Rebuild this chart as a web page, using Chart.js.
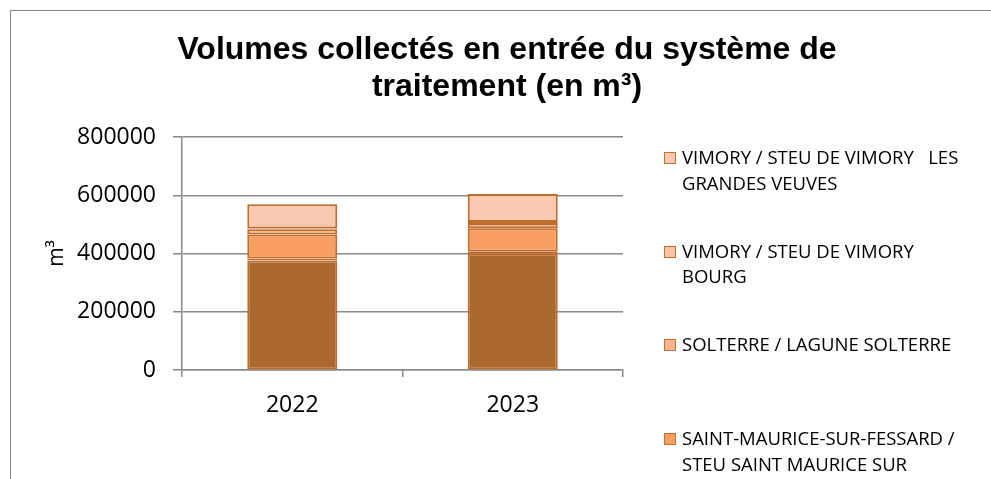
<!DOCTYPE html>
<html lang="fr">
<head>
<meta charset="utf-8">
<title>Volumes collectés en entrée du système de traitement</title>
<script src="https://cdn.jsdelivr.net/npm/chart.js@4.4.1/dist/chart.umd.min.js"></script>
<style>
    body {
        margin: 0;
        width: 991px;
        height: 479px;
        overflow: hidden;
        background: #fff;
        position: relative;
    }
    #frame {
        position: absolute;
        left: 10px;
        top: 10px;
        width: 1200px;
        height: 800px;
        border-left: 1.5px solid #888;
        border-top: 1.5px solid #888;
    }
    #chart {
        position: absolute;
        left: 0;
        top: 0;
    }
    #title {
        position: absolute;
        left: 147px;
        top: 30px;
        width: 720px;
        text-align: center;
        font: bold 32px "Liberation Sans", Arial, sans-serif;
        line-height: 37px;
        color: #000;
    }
    #legend {
        position: absolute;
        left: 664px;
        top: 144px;
        width: 320px;
        font: 18.5px "Open Sans", sans-serif;
        color: #000;
    }
    .legend-item {
        display: flex;
        height: 93.7px;
    }
    .legend-box {
        flex: none;
        width: 10px;
        height: 10px;
        margin-top: 8px;
        margin-right: 6px;
        border: 1.5px solid #c0702f;
    }
    .legend-text {
        width: 295px;
        line-height: 25.8px;
        white-space: pre-wrap;
    }
</style>
</head>
<body>
<div id="frame"></div>
<canvas id="chart" width="991" height="479"></canvas>
<div id="title">Volumes collectés en entrée du système de traitement (en m³)</div>
<div id="legend"></div>

<script>
// Data (stack order: bottom to top)
const years = ['2022', '2023'];
const yTicks = [0, 200000, 400000, 600000, 800000];

// the two lowest series have their legend entries below the visible frame
const stationNames = [
    'STATION 1',
    'STATION 2',
    'SAINT-MAURICE-SUR-FESSARD / STEU SAINT MAURICE SUR FESSARD',
    'SOLTERRE / LAGUNE SOLTERRE',
    'VIMORY / STEU DE VIMORY BOURG',
    'VIMORY / STEU DE VIMORY   LES GRANDES VEUVES'
];
const station1 = [376000, 399000];
const station2 = [7000, 7000];
const saintMaurice = [82000, 81000];
const solterre = [18000, 18000];
const vimoryBourg = [3000, 3000];
const vimoryGrandesVeuves = [83000, 96000];
const stationColors = ['#ab6930', '#cf7c3c', '#f89f62', '#f9b58f', '#fac2a5', '#fbc9b0'];

const seriesValues = [station1, station2, saintMaurice, solterre, vimoryBourg, vimoryGrandesVeuves];

const gridColor = '#8a8a8a';
const tickFont = { family: 'Open Sans', size: 23 };

const datasets = seriesValues.map((values, i) => ({
    label: stationNames[i],
    data: values,
    backgroundColor: stationColors[i],
    borderColor: '#bf6c2c',
    borderWidth: 2,
    borderSkipped: false,
    barPercentage: 0.408,
    categoryPercentage: 1
}));

const ctx = document.getElementById('chart').getContext('2d');
const chart = new Chart(ctx, {
    type: 'bar',
    data: {
        labels: years,
        datasets: datasets
    },
    options: {
        responsive: false,
        animation: false,
        layout: {
            padding: { left: 40, top: 137, right: 368, bottom: 0 }
        },
        plugins: {
            legend: { display: false },
            tooltip: { enabled: false }
        },
        scales: {
            x: {
                stacked: true,
                grid: {
                    drawOnChartArea: false,
                    color: gridColor,
                    lineWidth: 1.5,
                    tickLength: 7
                },
                border: { color: gridColor, width: 1.5 },
                ticks: { color: '#000', font: tickFont, padding: 15 },
                afterFit: scale => { scale.height = 109; }
            },
            y: {
                stacked: true,
                min: 0,
                max: 800000,
                afterBuildTicks: scale => {
                    scale.ticks = yTicks.map(v => ({ value: v }));
                },
                grid: {
                    color: gridColor,
                    lineWidth: 1.5,
                    tickLength: 9
                },
                border: { color: gridColor, width: 1.5 },
                ticks: {
                    color: '#000',
                    font: tickFont,
                    padding: 17,
                    callback: value => String(value)
                },
                title: {
                    display: true,
                    text: 'm³',
                    color: '#000',
                    font: { family: 'Open Sans', size: 21 },
                    padding: { top: 4, bottom: 0 }
                },
                afterFit: scale => { scale.width = 142; }
            }
        }
    }
});

// Legend, top series first like the original
const legend = document.getElementById('legend');
for (let i = stationNames.length - 1; i >= 0; i--) {
    const item = document.createElement('div');
    item.className = 'legend-item';
    item.innerHTML = `<span class="legend-box" style="background:${stationColors[i]}"></span><span class="legend-text">${stationNames[i]}</span>`;
    legend.appendChild(item);
}
</script>
</body>
</html>
